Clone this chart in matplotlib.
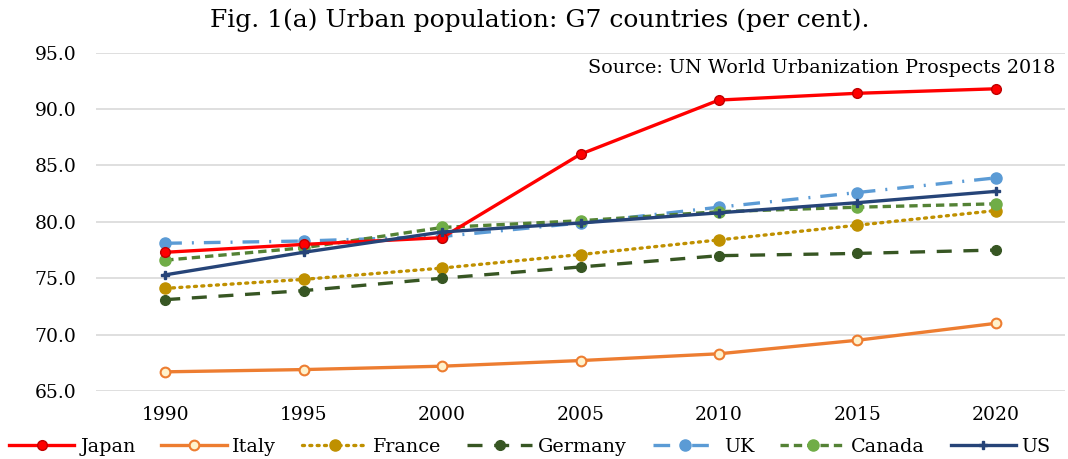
import matplotlib
matplotlib.use("Agg")
import matplotlib.pyplot as plt

years = ["1990", "1995", "2000", "2005", "2010", "2015", "2020"]
japan = [77.3, 78.0, 78.6, 86.0, 90.8, 91.4, 91.8]
italy = [66.7, 66.9, 67.2, 67.7, 68.3, 69.5, 71.0]
france = [74.1, 74.9, 75.9, 77.1, 78.4, 79.7, 81.0]
germany = [73.1, 73.9, 75.0, 76.0, 77.0, 77.2, 77.5]
uk = [78.1, 78.3, 78.7, 79.9, 81.3, 82.6, 83.9]
canada = [76.6, 77.7, 79.5, 80.1, 80.9, 81.3, 81.6]
us = [75.3, 77.3, 79.1, 79.9, 80.8, 81.7, 82.7]
yticks = [65.0, 70.0, 75.0, 80.0, 85.0, 90.0, 95.0]

plt.rcParams['font.family'] = ['DejaVu Serif']

fig = plt.figure(figsize=(10.68, 4.59), dpi=100)
ax = fig.add_axes([96/1068, 1-391/459, (1065-96)/1068, (391-52.7)/459])

x = list(range(len(years)))
lw = 2.4
ax.plot(x, japan, color='#FF0000', lw=lw, marker='o', ms=7, mfc='#FF0000', mec='#C00000', label='Japan', zorder=5)
ax.plot(x, italy, color='#ED7D31', lw=lw, marker='o', ms=7, mfc='#FFF2CC', mec='#ED7D31', mew=1.5, label='Italy', zorder=5)
ax.plot(x, france, color='#BF9000', lw=lw, ls=(0, (0.6, 1.6)), dash_capstyle='round', marker='o', ms=8, mfc='#BF9000', mec='#BF9000', label='France', zorder=4)
ax.plot(x, germany, color='#375623', lw=lw, ls=(0, (4.5, 3.5)), marker='o', ms=7, mfc='#375623', mec='#375623', label='Germany', zorder=4)
ax.plot(x, uk, color='#5B9BD5', lw=lw, ls=(0, (5, 3, 0.6, 3)), marker='o', ms=8, mfc='#5B9BD5', mec='#5B9BD5', label='UK', zorder=3)
ax.plot(x, canada, color='#548235', lw=lw, ls=(0, (2.5, 1.5)), marker='o', ms=8, mfc='#70AD47', mec='#70AD47', label='Canada', zorder=4)
ax.plot(x, us, color='#264478', lw=lw, marker='P', ms=6, mfc='#264478', mec='#264478', label='US', zorder=6)

ax.set_xlim(-0.5, 6.5)
ax.set_ylim(65, 95)
ax.set_yticks(yticks)
ax.set_yticklabels([f"{v:.1f}" for v in yticks], fontsize=13.5)
ax.set_xticks(x)
ax.set_xticklabels(years, fontsize=13.5)
ax.tick_params(axis='y', length=0, pad=14)
ax.tick_params(axis='x', length=0, pad=11)
ax.grid(axis='y', color='#D9D9D9', lw=1.2)
ax.set_axisbelow(True)
for s in ax.spines.values():
    s.set_visible(False)

fig.text(540/1068, 1-20/459, "Fig. 1(a) Urban population: G7 countries (per cent).", ha='center', va='center', fontsize=18)
ax.text(0.99, 0.955, "Source: UN World Urbanization Prospects 2018", transform=ax.transAxes, ha='right', va='center', fontsize=13.8)

fig.legend(loc='center', bbox_to_anchor=(530/1068, 1-447/459), ncol=7, frameon=False, fontsize=13.8,
           handlelength=3.4, columnspacing=1.35, handletextpad=0.3, borderaxespad=0, borderpad=0)

fig.savefig("out.png", dpi=100)
